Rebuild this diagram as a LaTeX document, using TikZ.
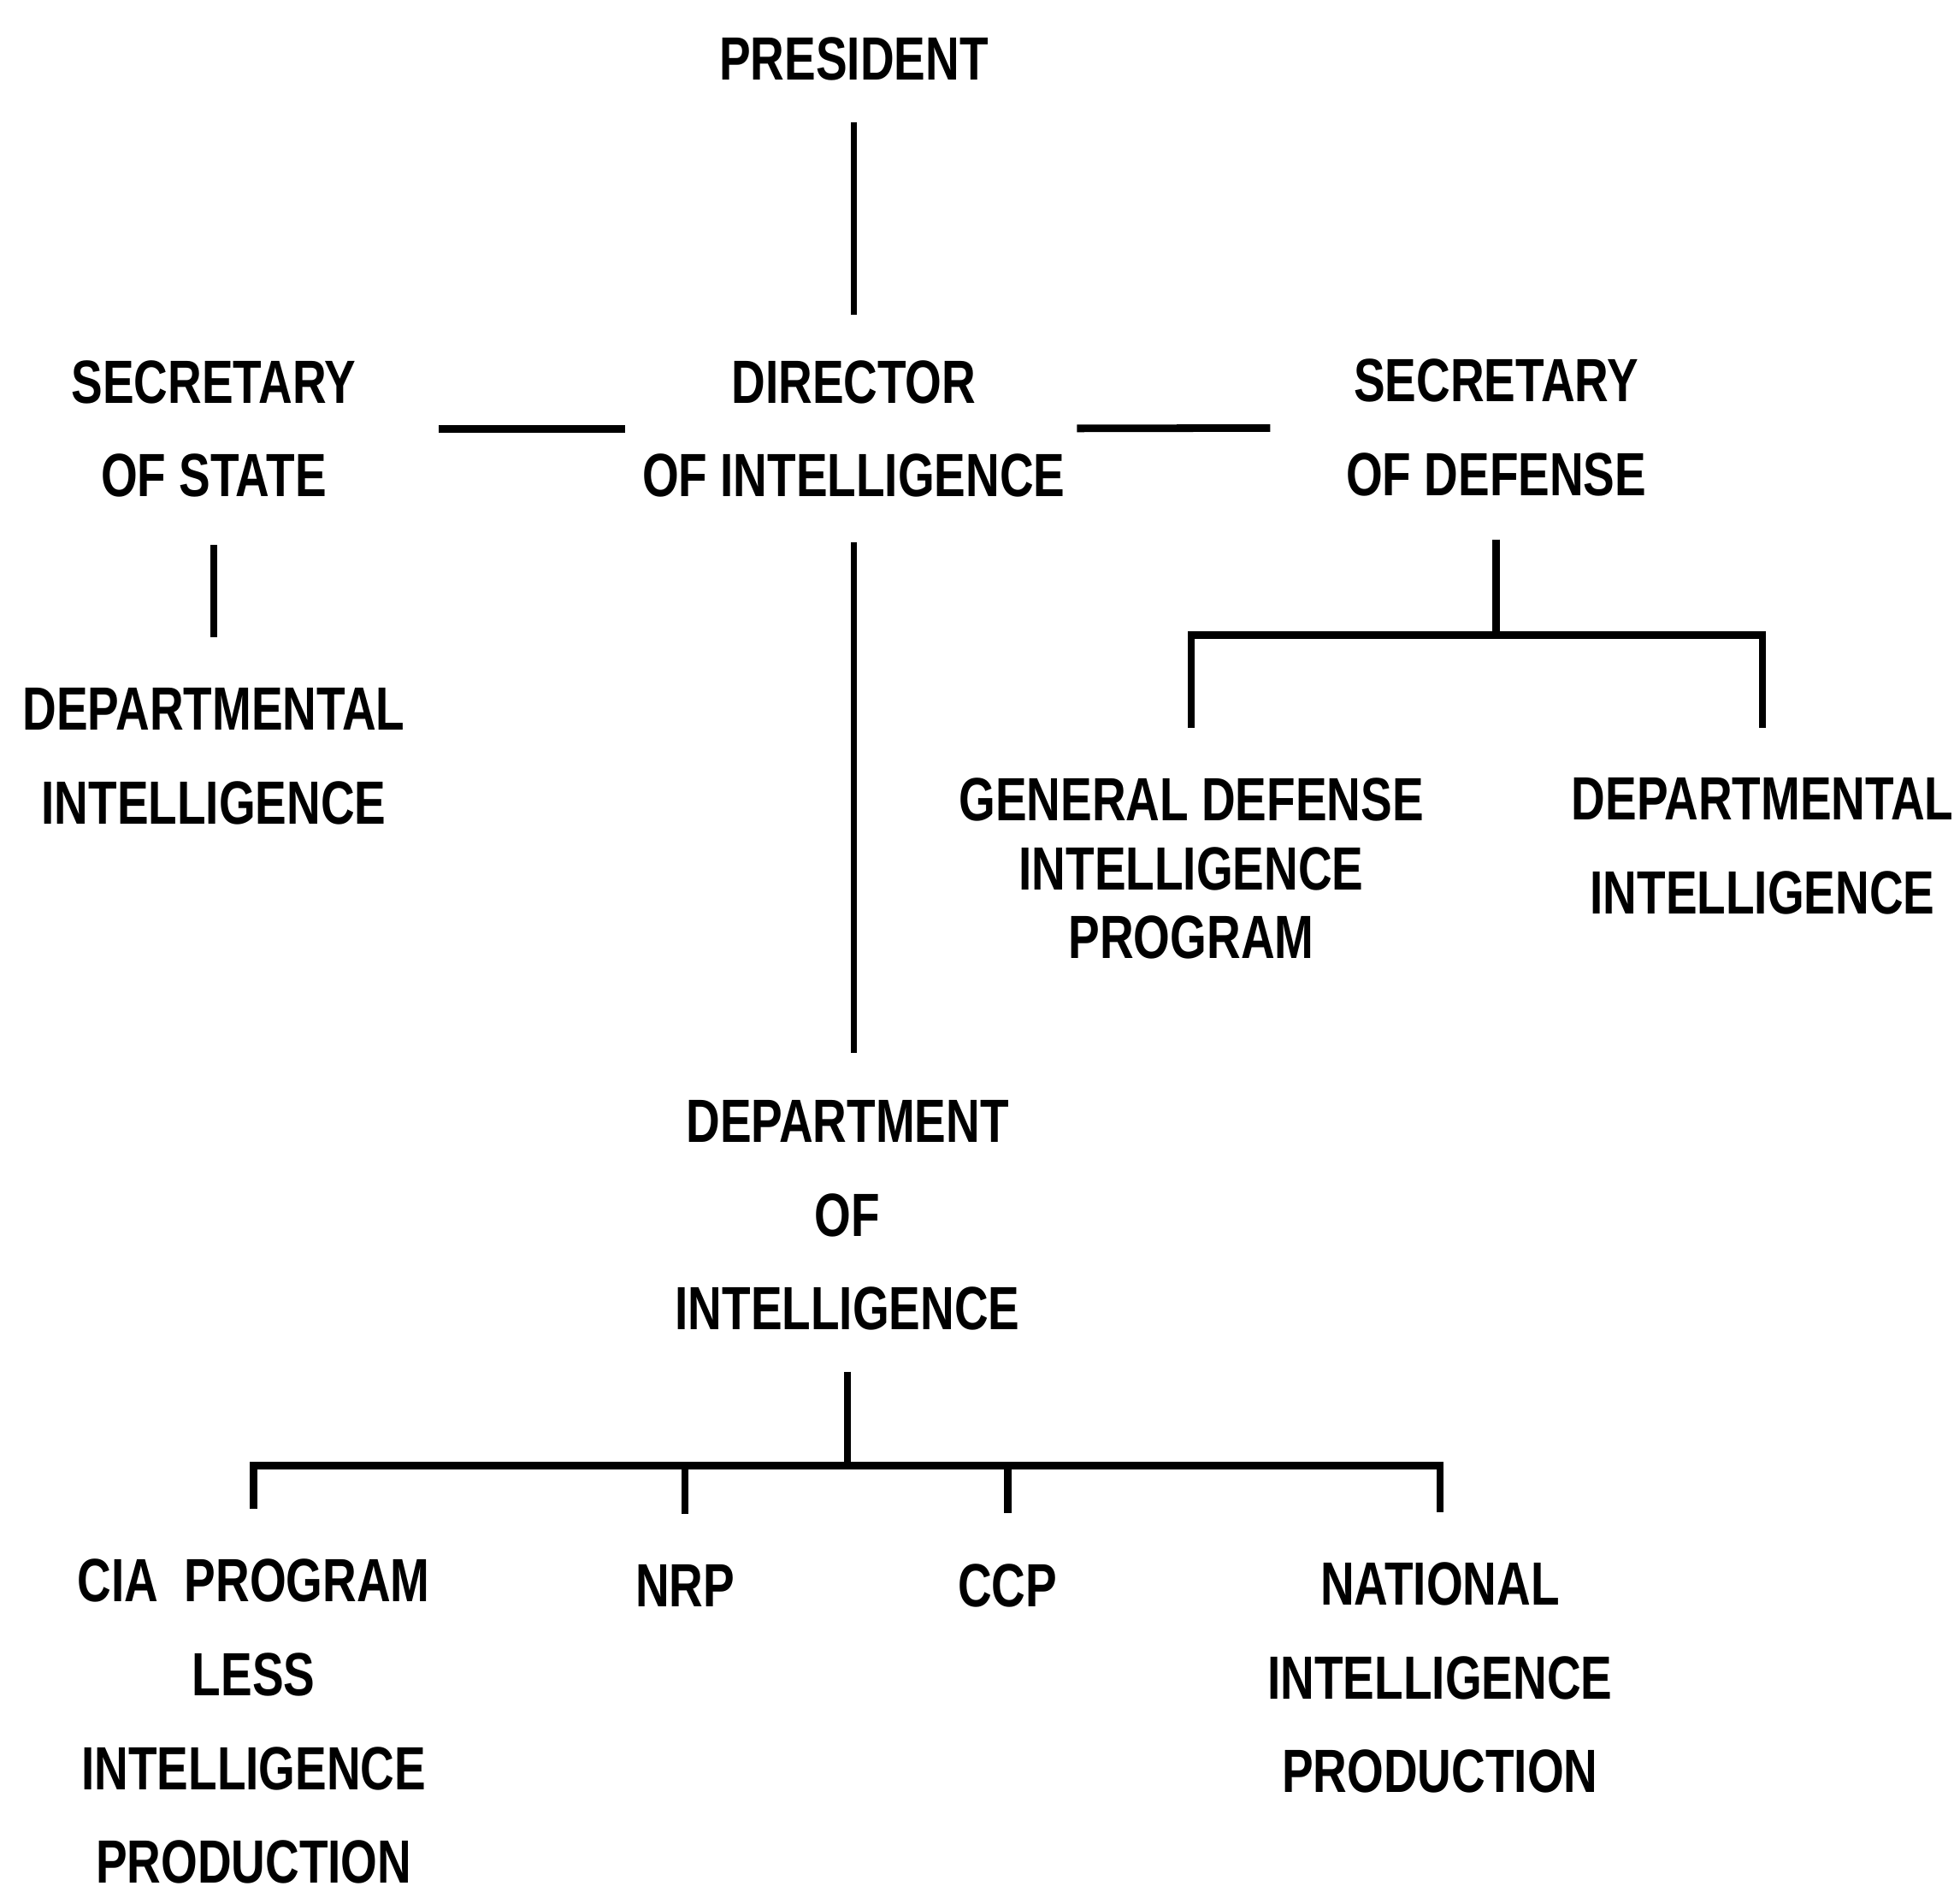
\documentclass[tikz,border=0pt]{standalone}
\usepackage{fontspec}
\setmainfont{Liberation Sans}[FakeStretch=0.77]
\usepackage{tikz}
\newcommand{\orgfont}{\fontsize{20.3pt}{31.2pt}\selectfont\bfseries}

\begin{document}
\begin{tikzpicture}[x=0.14617mm,y=-0.14617mm,
    org/.style={align=center,inner sep=0pt,font=\orgfont},
    link/.style={line width=2.5pt},
    thin link/.style={line width=1.8pt}]
  \useasboundingbox (0,0) rectangle (1568,1513);

  % top row
  \node[org] (pres)  at (683,47)   {PRESIDENT};
  \node[org] (state) at (171,343)  {SECRETARY\\OF STATE};
  \node[org] (dir)   at (683,343)  {DIRECTOR\\OF INTELLIGENCE};
  \node[org] (def)   at (1197,342) {SECRETARY\\OF DEFENSE};

  % second row
  \node[org] (deptL) at (171,605)  {DEPARTMENTAL\\INTELLIGENCE};
  \node[org,font={\fontsize{20.3pt}{22.9pt}\selectfont\bfseries}]
             (gdip)  at (953,695)  {GENERAL DEFENSE\\INTELLIGENCE\\PROGRAM};
  \node[org] (deptR) at (1410,677) {DEPARTMENTAL\\INTELLIGENCE};
  \node[org] (doi)   at (678,972)  {DEPARTMENT\\OF\\INTELLIGENCE};

  % bottom row
  \node[org] (cia) at (203,1377)  {CIA\ \ PROGRAM\\LESS\\INTELLIGENCE\\PRODUCTION};
  \node[org] (nrp) at (548,1268)  {NRP};
  \node[org] (ccp) at (806,1268)  {CCP};
  \node[org] (nip) at (1152,1342) {NATIONAL\\INTELLIGENCE\\PRODUCTION};

  \coordinate (defj) at (1195,508);
  \coordinate (doij) at (679,1172);

  \draw[thin link,shorten <=4.8mm,shorten >=5.3mm] (pres) -- (dir);
  \draw[link,shorten <=9.6mm,shorten >=1.9mm] (state) -- (dir);
  \draw[link,shorten <=1.3mm,shorten >=8.8mm] (dir) -- (def);
  \draw[link,shorten <=5.5mm,shorten >=5.9mm] (state) -- (deptL);
  \draw[thin link,shorten <=5.2mm,shorten >=5.5mm] (dir.south) -- (dir.south |- doi.north);

  % defense branch
  \draw[link,shorten <=5.0mm] (def.south) -- (def.south |- defj);
  \draw[link,shorten <=5.85mm,shorten >=5.85mm]
    (gdip.north) -- (gdip.north |- defj) -- (deptR.north |- defj) -- (deptR.north);

  % department branch
  \draw[link,shorten <=4.75mm] (doi.south) -- (doi.south |- doij);
  \draw[link,shorten <=5.85mm,shorten >=5.85mm]
    (cia.north) -- (cia.north |- doij) -- (nip.north |- doij) -- (nip.north);
  \foreach \n in {nrp,ccp}
    \draw[link,shorten >=5.85mm] (\n.north |- doij) -- (\n.north);
\end{tikzpicture}
\end{document}
